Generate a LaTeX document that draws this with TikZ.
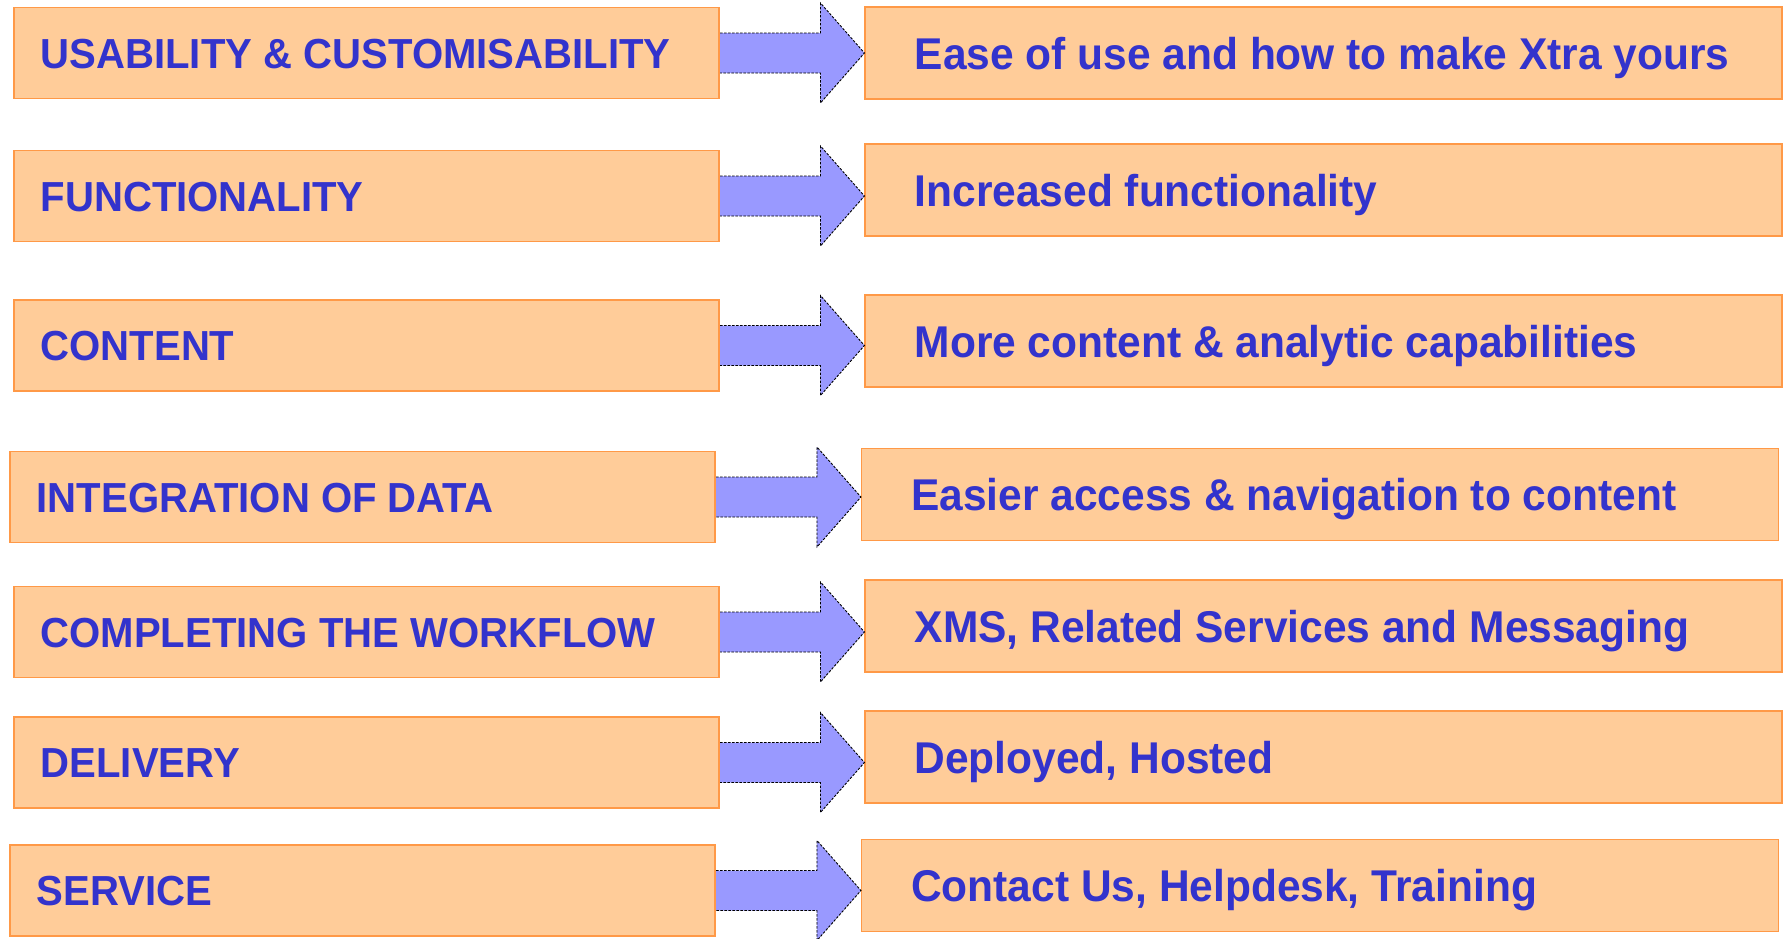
\documentclass[tikz,border=0pt]{standalone}
\usepackage{fontspec}
\setmainfont{Liberation Sans}
\newfontfamily\boxfont[FakeStretch=0.955]{Liberation Sans}
\usepackage{tikz}
\usetikzlibrary{positioning, calc}
\definecolor{peach}{RGB}{255,204,153}
\definecolor{peachedge}{RGB}{255,153,71}
\definecolor{txtblue}{RGB}{51,51,204}
\definecolor{arrowblue}{RGB}{153,153,255}

\tikzset{
  topic/.style={rectangle, draw=peachedge, fill=peach, line width=1.1pt,
    minimum width=705pt, minimum height=91pt, inner sep=0pt},
  result/.style={topic, minimum width=917pt, minimum height=92pt},
  topictext/.style={inner sep=0pt, text=txtblue,
    font=\boxfont\bfseries\fontsize{42}{50}\selectfont,
    text height=30pt, text depth=0pt},
  resulttext/.style={topictext,
    font=\boxfont\bfseries\fontsize{44.5}{52}\selectfont, text height=32pt},
  fatarrow/.style={fill=arrowblue, draw=black, line width=0.9pt,
    dash pattern=on 2.5pt off 1.5pt},
}
% block arrow from the east side of #1 to the west side of #2
\newcommand{\bigarrow}[2]{%
  \path[fatarrow] let \p1=(#1.east), \p2=(#2.west) in
    (\x1+0.6pt,\y1+20pt) -- (\x2-44pt,\y1+20pt) -- (\x2-44pt,\y1+50pt)
    -- (\x2,\y1) -- (\x2-44pt,\y1-50pt) -- (\x2-44pt,\y1-20pt)
    -- (\x1+0.6pt,\y1-20pt);}

\begin{document}
\begin{tikzpicture}[x=1pt, y=-1pt]
  \useasboundingbox (0,0) rectangle (1789,938);
  % left column
  \node[topic] (usab) at (366.5,53) {};
  \node[topic] (func) at (366.5,196) {};
  \node[topic] (cont) at (366.5,345.5) {};
  \node[topic] (integ) at (362.5,497) {};
  \node[topic] (workf) at (366.5,632) {};
  \node[topic] (deliv) at (366.5,762.5) {};
  \node[topic] (serv) at (362.5,890.5) {};
  \node[topictext, right=27pt of usab.west] (usabtxt) {USABILITY \& CUSTOMISABILITY};
  \node[topictext, right=27pt of func.west] (functxt) {FUNCTIONALITY};
  \node[topictext, right=27pt of cont.west] (conttxt) {CONTENT};
  \node[topictext, right=27pt of integ.west] (integtxt) {INTEGRATION OF DATA};
  \node[topictext, right=27pt of workf.west] (workftxt) {COMPLETING THE WORKFLOW};
  \node[topictext, right=27pt of deliv.west] (delivtxt) {DELIVERY};
  \node[topictext, right=27pt of serv.west] (servtxt) {SERVICE};

  % right column
  \node[result] (ease) at (1323.5,53) {};
  \node[result] (incr) at (1323.5,190) {};
  \node[result] (more) at (1323.5,341) {};
  \node[result] (access) at (1320,494.5) {};
  \node[result] (xms) at (1323.5,626) {};
  \node[result] (depl) at (1323.5,757) {};
  \node[result] (contact) at (1320,885.5) {};
  \node[resulttext, right=50pt of ease.west] (easetxt) {Ease of use and how to make Xtra yours};
  \node[resulttext, right=50pt of incr.west] (incrtxt) {Increased functionality};
  \node[resulttext, right=50pt of more.west] (moretxt) {More content \& analytic capabilities};
  \node[resulttext, right=50pt of access.west] (accesstxt) {Easier access \& navigation to content};
  \node[resulttext, right=50pt of xms.west] (xmstxt) {XMS, Related Services and Messaging};
  \node[resulttext, right=50pt of depl.west] (depltxt) {Deployed, Hosted};
  \node[resulttext, right=50pt of contact.west] (contacttxt) {Contact Us, Helpdesk, Training};

  % arrows
  \bigarrow{usab}{ease}
  \bigarrow{func}{incr}
  \bigarrow{cont}{more}
  \bigarrow{integ}{access}
  \bigarrow{workf}{xms}
  \bigarrow{deliv}{depl}
  \bigarrow{serv}{contact}
\end{tikzpicture}
\end{document}
